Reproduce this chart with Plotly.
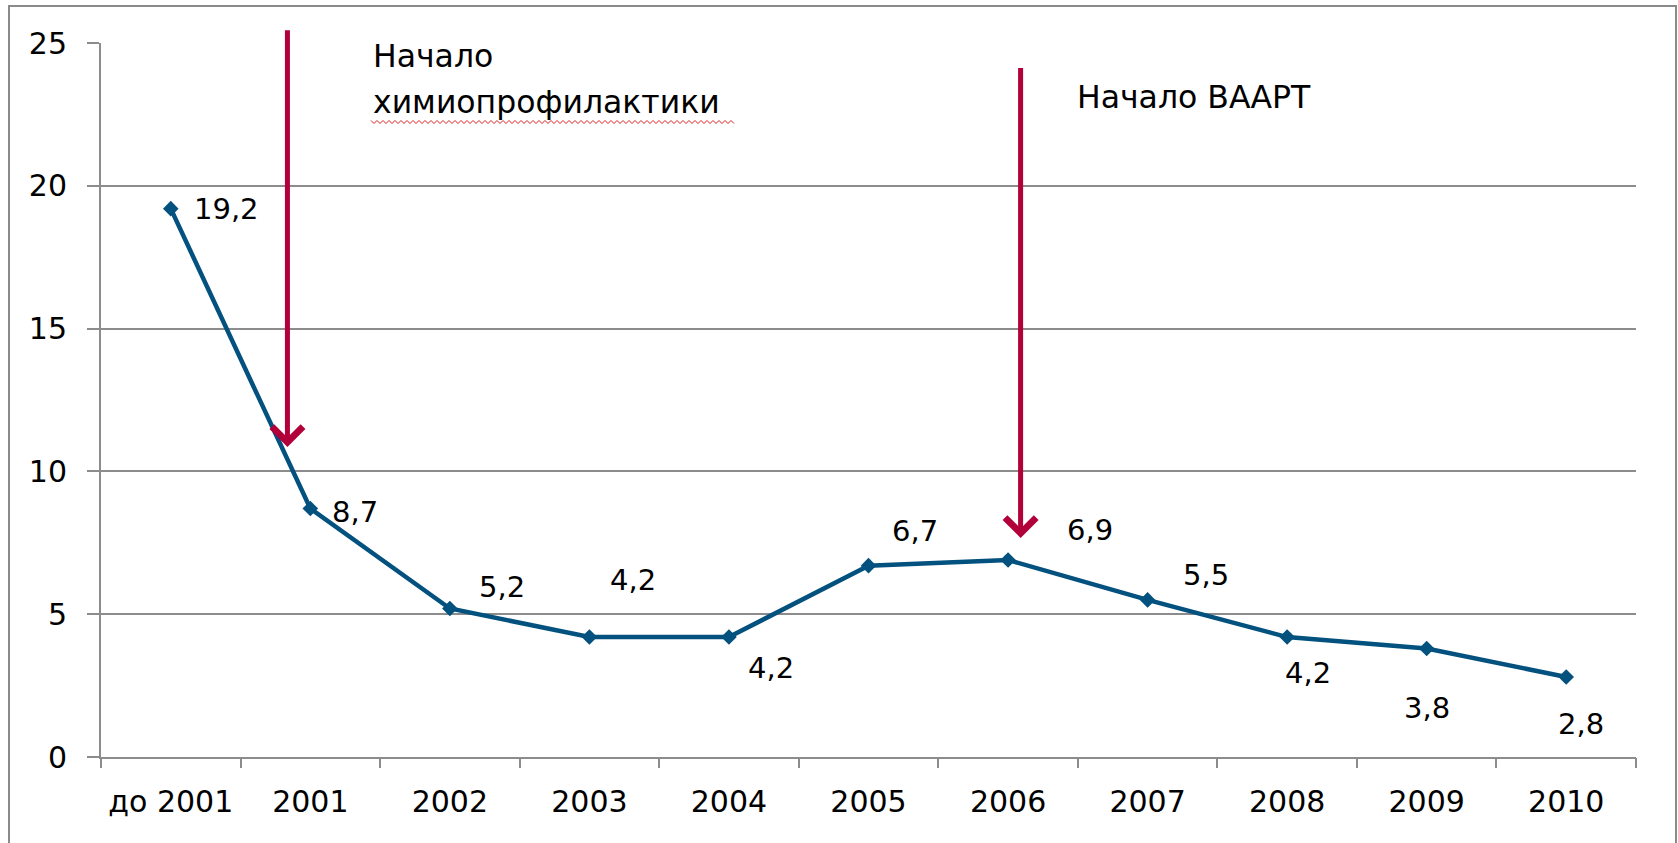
import plotly.graph_objects as go

categories = ["до 2001", "2001", "2002", "2003", "2004", "2005",
              "2006", "2007", "2008", "2009", "2010"]
values = [19.2, 8.7, 5.2, 4.2, 4.2, 6.7, 6.9, 5.5, 4.2, 3.8, 2.8]
y_ticks = [0, 5, 10, 15, 20, 25]

# data-label offsets in pixels (xshift, yshift) — layout only
label_shifts = [(56, 0), (45, -3), (52, 21), (44, 57), (42, -31), (46, 35),
                (82, 30), (58, 25), (21, -36), (0, -60), (15, -47)]

FONT = "DejaVu Sans"
LINE_COLOR = "#03517E"
ARROW_COLOR = "#B2003A"
GRID = "#8C8C8C"

W, H = 1678, 843
ML, MT = 101, 43
PW, PH = 1535, 714
MR, MB = W - ML - PW, H - MT - PH


def px(xp):
    return (xp - ML) / PW


def py(yp):
    return (MT + PH - yp) / PH


fig = go.Figure()
fig.add_trace(go.Scatter(
    x=list(range(len(categories))), y=values, mode="lines+markers",
    line=dict(color=LINE_COLOR, width=4.5),
    marker=dict(symbol="diamond", size=12, color=LINE_COLOR),
    showlegend=False, hoverinfo="skip",
))

annotations = []
for i, (v, (dx, dy)) in enumerate(zip(values, label_shifts)):
    annotations.append(dict(
        x=i, y=v, xref="x", yref="y", text=f"{v:.1f}".replace(".", ","),
        showarrow=False, xshift=dx, yshift=dy,
        xanchor="center", yanchor="middle",
        font=dict(family=FONT, size=29, color="black"),
    ))

# red arrows (tip at x,y; tail at ax,ay)
arrows = [(0.836, 10.85, 25.5), (6.09, 7.67, 24.18)]
for ax_x, tip_y, tail_y in arrows:
    annotations.append(dict(
        x=ax_x, y=tip_y, xref="x", yref="y",
        ax=ax_x, ay=tail_y, axref="x", ayref="y",
        text="", showarrow=True, arrowhead=4, arrowsize=1.2,
        arrowwidth=5, arrowcolor=ARROW_COLOR, standoff=0,
    ))

texts = [("Начало", 371, 55.5), ("химиопрофилактики", 371, 101.5),
         ("Начало ВААРТ", 1075, 97)]
for t, xl, yc in texts:
    annotations.append(dict(
        x=px(xl), y=py(yc), xref="paper", yref="paper", text=t,
        showarrow=False, xanchor="left", yanchor="middle", align="left",
        font=dict(family=FONT, size=31.5, color="black"),
    ))

# spell-check squiggle under "химиопрофилактики" (decoration)
pts = []
xp, k = 371, 0
while xp <= 736:
    yy = 122 + (1.5 if k % 2 else -1.5)
    pts.append(f"{px(xp):.5f},{py(yy):.5f}")
    xp += 3
    k += 1
squiggle = "M" + " L".join(pts)

shapes = [
    dict(type="rect", xref="paper", yref="paper",
         x0=px(9), x1=px(1676), y0=py(860), y1=py(6),
         line=dict(color="#8A8A8A", width=2), fillcolor="rgba(0,0,0,0)", layer="below"),
    dict(type="path", xref="paper", yref="paper", path=squiggle,
         line=dict(color="#E02020", width=1)),
]

fig.update_layout(
    width=W, height=H,
    margin=dict(l=ML, r=MR, t=MT, b=MB, pad=0),
    paper_bgcolor="white", plot_bgcolor="white",
    annotations=annotations, shapes=shapes,
    font=dict(family=FONT, size=30, color="black"),
    xaxis=dict(
        range=[-0.5, len(categories) - 0.5],
        tickmode="array", tickvals=list(range(len(categories))), ticktext=categories,
        ticks="", showline=True, linecolor=GRID, linewidth=2, showgrid=False,
        tickfont=dict(family=FONT, size=30, color="black"),
        ticklabelstandoff=17, zeroline=False,
    ),
    xaxis2=dict(
        overlaying="x", matches="x", range=[-0.5, len(categories) - 0.5],
        tickmode="array", tickvals=[i - 0.5 for i in range(len(categories) + 1)],
        ticks="outside", ticklen=10, tickwidth=2, tickcolor=GRID,
        showticklabels=False, showgrid=False, showline=False, zeroline=False,
        side="bottom",
    ),
    yaxis=dict(
        range=[0, 25], tickvals=y_ticks, ticks="outside", ticklen=12,
        tickwidth=2, tickcolor=GRID, showline=True, linecolor=GRID, linewidth=2,
        showgrid=True, gridcolor=GRID, gridwidth=2, zeroline=False,
        tickfont=dict(family=FONT, size=30, color="black"),
        ticklabelstandoff=14,
    ),
)
# invisible trace to activate the boundary-tick axis
fig.add_trace(go.Scatter(x=[0], y=[0], xaxis="x2", mode="markers",
                         marker=dict(opacity=0), showlegend=False, hoverinfo="skip"))

fig.write_html("out.html", config={"displayModeBar": False},
               post_script="document.body.style.margin='0';")
